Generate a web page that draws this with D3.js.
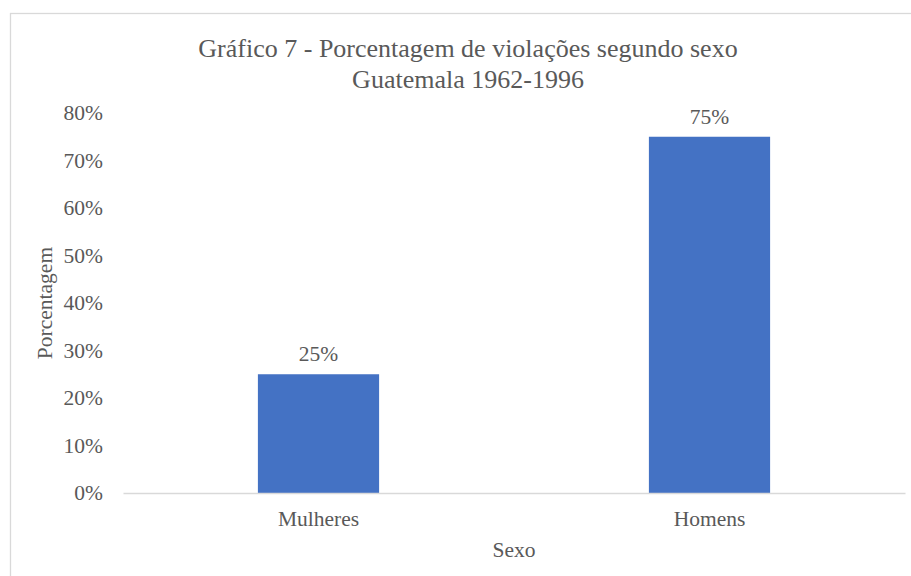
<!DOCTYPE html>
<html>
<head>
<meta charset="utf-8">
<script src="https://d3js.org/d3.v7.min.js"></script>
<style>
  body { margin: 0; background: #fff; }
  svg { display: block; }
  text { font-family: "Liberation Serif", "Times New Roman", serif; fill: #595959; }
</style>
</head>
<body>
<script>
  // data
  var categories = ["Mulheres", "Homens"];
  var values = [0.25, 0.75];
  var yTicks = [0, 0.1, 0.2, 0.3, 0.4, 0.5, 0.6, 0.7, 0.8];
  var titleLines = ["Gráfico 7 - Porcentagem de violações segundo sexo", "Guatemala 1962-1996"];

  var W = 911, H = 576;
  var margin = {top: 113, right: 6, bottom: 83, left: 123},
      width = W - margin.left - margin.right,
      height = H - margin.top - margin.bottom;
  var fs = "21.5px";

  var svg = d3.select("body").append("svg")
      .attr("width", W)
      .attr("height", H);

  // chart border
  svg.append("rect")
      .attr("x", 10.5).attr("y", 13.5)
      .attr("width", W + 10).attr("height", H + 10)
      .attr("fill", "white")
      .attr("stroke", "#d9d9d9").attr("stroke-width", 1.3);

  var g = svg.append("g")
      .attr("transform", "translate(" + margin.left + "," + margin.top + ")");

  var x = d3.scaleBand().domain(categories).range([0, width]).paddingInner(0.69).paddingOuter(0.345);
  var y = d3.scaleLinear().domain([0, 0.8]).range([height, 0]);

  // y axis (labels only)
  var yAxis = g.append("g")
      .call(d3.axisLeft(y).tickValues(yTicks).tickFormat(d3.format(".0%")).tickSize(0).tickPadding(20));
  yAxis.select(".domain").remove();
  yAxis.selectAll("text").style("font-size", fs).attr("fill", "#595959");

  // bars
  g.selectAll(".bar")
      .data(values)
      .enter().append("rect")
      .attr("class", "bar")
      .attr("x", function(d, i) { return x(categories[i]); })
      .attr("y", function(d) { return y(d); })
      .attr("width", x.bandwidth())
      .attr("height", function(d) { return height - y(d); })
      .attr("fill", "#4472c4");

  // x axis
  var xAxis = g.append("g")
      .attr("transform", "translate(0," + height + ")")
      .call(d3.axisBottom(x).tickSize(0).tickPadding(18));
  xAxis.select(".domain").attr("stroke", "#d9d9d9").attr("stroke-width", 1.3);
  xAxis.selectAll("text").style("font-size", fs).attr("fill", "#595959");

  // data labels
  g.selectAll(".lbl")
      .data(values)
      .enter().append("text")
      .attr("class", "lbl")
      .attr("x", function(d, i) { return x(categories[i]) + x.bandwidth() / 2; })
      .attr("y", function(d) { return y(d) - 13; })
      .attr("text-anchor", "middle")
      .style("font-size", fs)
      .text(d3.format(".0%"));

  // title
  svg.selectAll(".title")
      .data(titleLines)
      .enter().append("text")
      .attr("class", "title")
      .attr("x", 468)
      .attr("y", function(d, i) { return 57 + i * 31; })
      .attr("text-anchor", "middle")
      .style("font-size", "26px")
      .text(function(d) { return d; });

  // axis titles
  svg.append("text")
      .attr("transform", "translate(52," + (margin.top + height / 2) + ") rotate(-90)")
      .attr("text-anchor", "middle")
      .style("font-size", fs)
      .text("Porcentagem");

  svg.append("text")
      .attr("x", margin.left + width / 2)
      .attr("y", 557)
      .attr("text-anchor", "middle")
      .style("font-size", fs)
      .text("Sexo");
</script>
</body>
</html>
